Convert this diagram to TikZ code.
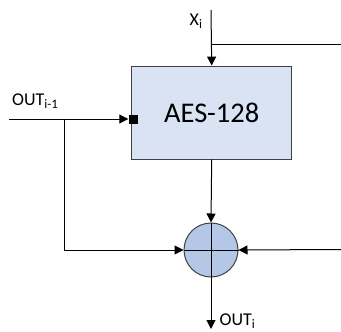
\documentclass[tikz,border=0pt]{standalone}
\usepackage{fontspec}
\setmainfont{Carlito}
\usetikzlibrary{arrows.meta}
\definecolor{boxfill}{HTML}{DAE3F3}
\definecolor{xorfill}{HTML}{B4C7E7}
\definecolor{edge}{HTML}{404040}
\tikzset{
  arr/.style={-{Triangle[length=9pt,width=9pt]}},
  wire/.style={line width=1pt,black},
  aesbox/.style={draw=edge,line width=1.1pt,fill=boxfill,minimum width=160pt,minimum height=93pt,inner sep=0pt,font=\fontsize{28.5}{30}\selectfont},
  xorc/.style={circle,draw=edge,line width=1pt,fill=xorfill,minimum size=54pt,inner sep=0pt},
  port/.style={fill=black,minimum size=9pt,inner sep=0pt},
  lbl/.style={inner sep=0pt,font=\fontsize{18}{19}\selectfont},
}
\newcommand{\sbs}[1]{\raisebox{-3pt}{\fontsize{13}{13}\selectfont #1}}
\begin{document}
\begin{tikzpicture}[x=1pt,y=-1pt]
\useasboundingbox (0,0) rectangle (341,332);
\node[aesbox] (aes) at (211.7,112.6) {AES-128};
\node[xorc] (xor) at (211,250) {};
\draw[wire] (xor.north) -- (xor.south);
\draw[wire] (xor.west) -- (xor.east);
\node[port] (pt) at (133,119) {};
\coordinate (xtop) at (211,10);
\coordinate (xj) at (211,44);
\coordinate (xr) at (341,44);
\coordinate (oin) at (9,119);
\coordinate (br) at (64,119);
\coordinate (rin) at (341,249.5);
\coordinate (oout) at (211,329);
\draw[wire,arr] (xtop) -- (aes.north);
\draw[wire] (xj) -- (xr);
\draw[wire,arr] (oin) -- (pt.west);
\draw[wire,arr] (br) |- (xor.west);
\draw[wire,arr] (aes.south) -- (xor.north);
\draw[wire,arr] (rin) -- (xor.east);
\draw[wire,arr] (xor.south) -- (oout);
\node[lbl,anchor=base west] (lx) at (189.5,25) {X\sbs{i}};
\node[lbl,anchor=base west] (lo) at (12,106) {OUT\sbs{i-1}};
\node[lbl,anchor=base west] (lout) at (219.5,325) {OUT\sbs{i}};
\end{tikzpicture}
\end{document}
